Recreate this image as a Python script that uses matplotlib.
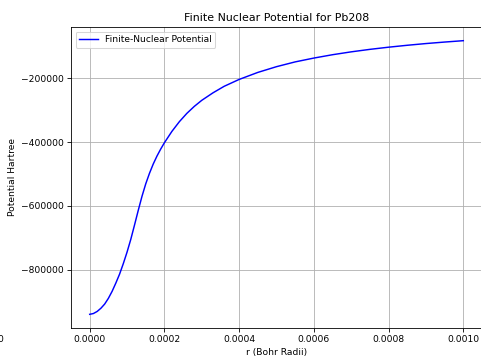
import matplotlib
matplotlib.use("Agg")
import matplotlib.pyplot as plt

r_bohr = [0, 0.00001, 0.00002, 0.00003, 0.00004, 0.00005, 0.00006, 0.00007,
          0.00008, 0.00009, 0.0001, 0.00011, 0.00012, 0.00013, 0.00014,
          0.00015, 0.00016, 0.00017, 0.00018, 0.00019, 0.0002, 0.00022,
          0.00024, 0.00026, 0.00028, 0.0003, 0.00033, 0.00036, 0.0004,
          0.00045, 0.0005, 0.00055, 0.0006, 0.00065, 0.0007, 0.00075,
          0.0008, 0.00085, 0.0009, 0.00095, 0.001]
potential = [-940000, -937500, -931000, -921000, -908000, -890000, -868000,
             -842000, -814000, -781000, -745000, -705000, -660000, -614000,
             -570000, -531000, -498000, -469000, -444000, -422000, -402000,
             -366500, -336000, -310000, -288000, -269000, -245500, -225000,
             -203500, -181500, -163500, -148500, -136500, -126000, -117000,
             -109200, -102400, -96400, -91000, -86300, -82000]

plt.rcParams["font.size"] = 8.8
plt.rcParams["axes.titlesize"] = 10.5

fig = plt.figure(figsize=(481 / 75, 357 / 75), dpi=75)
ax = fig.add_axes([71 / 481, 29 / 357, 411 / 481, 301 / 357])
ax.plot(r_bohr, potential, color="blue", lw=1.4, label="Finite-Nuclear Potential")
ax.set_title("Finite Nuclear Potential for Pb208")
ax.set_xlabel("r (Bohr Radii)")
ax.set_ylabel("Potential Hartree")
ax.grid(True)
ax.legend(loc="upper left")
ax.ticklabel_format(style="plain", axis="both", useOffset=False)
ax.set_xticks([0, 0.0002, 0.0004, 0.0006, 0.0008, 0.001])
ax.set_xticklabels(["0.0000", "0.0002", "0.0004", "0.0006", "0.0008", "0.0010"])
fig.text(3 / 481, 18 / 357, "0", ha="right", va="center", fontsize=8.8)
fig.savefig("out.png", dpi=75)
